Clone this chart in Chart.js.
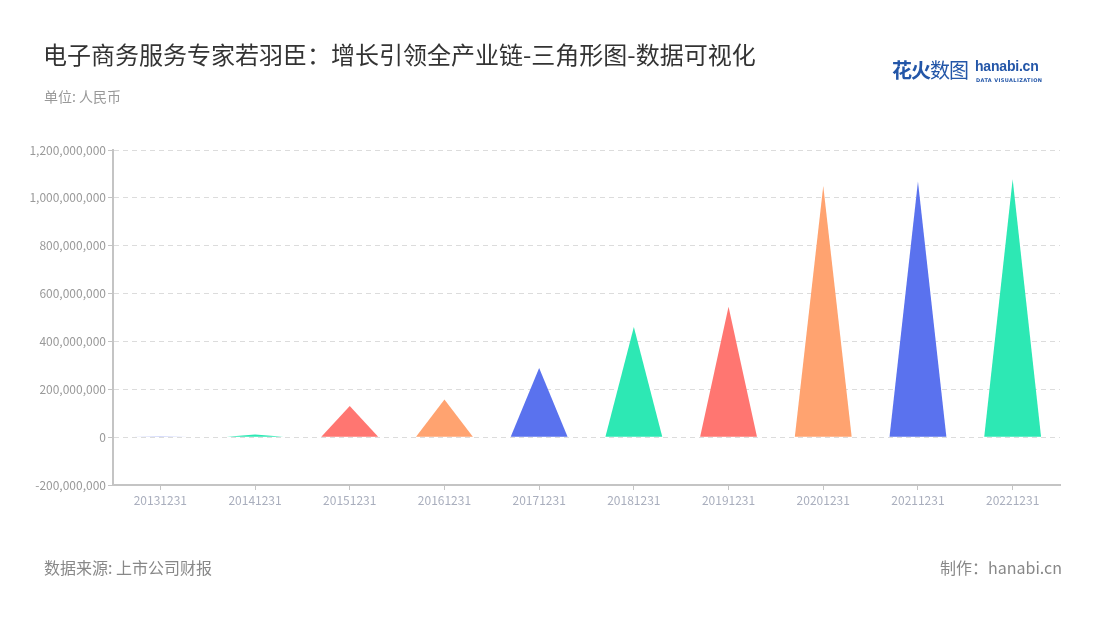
<!DOCTYPE html>
<html>
<head>
<meta charset="utf-8">
<script src="https://cdn.jsdelivr.net/npm/chart.js@4/dist/chart.umd.min.js"></script>
<style>
    body { margin: 0; background: #fff; font-family: "Noto Sans CJK SC", "Noto Sans", sans-serif; }
    #wrap { position: relative; width: 1100px; height: 620px; overflow: hidden; }
    #grafico { position: absolute; left: 0; top: 0; }
    .txt { position: absolute; white-space: nowrap; }
    #titulo { left: 43px; top: 36px; font-size: 24px; color: #333; }
    #unidad { left: 44px; top: 86px; font-size: 14px; color: #999; }
    #fuente { left: 44px; top: 555px; font-size: 16px; color: #888; }
    #autor { right: 38px; top: 555px; font-size: 16px; color: #888; }
    #logo { left: 892px; top: 55px; }
    #logo .cn { font-size: 20px; font-weight: bold; color: #2356a8; letter-spacing: -1px; }
    #logo .cn span { font-weight: normal; }
    #logo .en { position: absolute; left: 83px; top: 3px; font-size: 14px; font-weight: bold; color: #2356a8; font-family: "Liberation Sans", sans-serif; letter-spacing: -0.2px; }
    #logo .sub { position: absolute; left: 84px; top: 22px; font-size: 5px; font-weight: bold; color: #2356a8; letter-spacing: 0.4px; font-family: "DejaVu Sans", sans-serif; }
</style>
</head>
<body>
<div id="wrap">
    <canvas id="grafico" width="1100" height="620"></canvas>
    <div class="txt" id="titulo">电子商务服务专家若羽臣：增长引领全产业链-三角形图-数据可视化</div>
    <div class="txt" id="unidad">单位: 人民币</div>
    <div class="txt" id="logo"><span class="cn">花火<span>数图</span></span><span class="en">hanabi.cn</span><span class="sub">DATA VISUALIZATION</span></div>
    <div class="txt" id="fuente">数据来源: 上市公司财报</div>
    <div class="txt" id="autor">制作：hanabi.cn</div>
</div>
<script>
const fechas = ["20131231", "20141231", "20151231", "20161231", "20171231", "20181231", "20191231", "20201231", "20211231", "20221231"];
const valores = [1000000, 11000000, 130000000, 157000000, 289000000, 460000000, 545000000, 1050000000, 1068000000, 1078000000];
const colores = ["#5A72EE", "#2DE8B4", "#FF7671", "#FFA370"];
const ejeMin = -200000000;
const ejeMax = 1200000000;
const ejePaso = 200000000;

// dibuja cada barra como triangulo usando la posicion que calcula Chart.js
const triangulos = {
    id: "triangulos",
    beforeDatasetDraw(chart, args) {
        let meta = args.meta;
        let ctx = chart.ctx;
        ctx.save();
        meta.data.forEach((bar, i) => {
            let p = bar.getProps(["x", "y", "base", "width"], true);
            ctx.beginPath();
            ctx.moveTo(p.x - p.width / 2, p.base);
            ctx.lineTo(p.x, p.y);
            ctx.lineTo(p.x + p.width / 2, p.base);
            ctx.closePath();
            ctx.fillStyle = colores[i % colores.length];
            ctx.fill();
        });
        ctx.restore();
        return false;
    }
};

new Chart(document.getElementById("grafico"), {
    type: "bar",
    data: {
        labels: fechas,
        datasets: [{
            label: "值",
            data: valores,
            backgroundColor: fechas.map((f, i) => colores[i % colores.length]),
            barPercentage: 0.6,
            categoryPercentage: 1
        }]
    },
    options: {
        responsive: false,
        animation: false,
        layout: { padding: { top: 150, right: 40, bottom: 100, left: 0 } },
        plugins: {
            legend: { display: false },
            tooltip: { enabled: false }
        },
        scales: {
            x: {
                afterFit: (s) => { s.height = 35; },
                grid: { display: true, drawOnChartArea: false, offset: false, tickLength: 5, tickColor: "#c4c4c4" },
                border: { display: true, color: "#c4c4c4", width: 2 },
                ticks: {
                    color: "#a9aebd",
                    padding: 3,
                    maxRotation: 0,
                    font: { family: "Noto Sans CJK SC", size: 12 }
                }
            },
            y: {
                min: ejeMin,
                max: ejeMax,
                afterFit: (s) => { s.width = 113; },
                grid: { color: "#dcdcdc", lineWidth: 1, tickLength: 5, tickColor: "#c4c4c4" },
                border: { display: true, color: "#c4c4c4", width: 2, dash: [5, 4] },
                ticks: {
                    stepSize: ejePaso,
                    color: "#999",
                    padding: 2,
                    font: { family: "Noto Sans CJK SC", size: 12 },
                    callback: (v) => v.toLocaleString("en-US")
                }
            }
        }
    },
    plugins: [triangulos]
});
</script>
</body>
</html>
